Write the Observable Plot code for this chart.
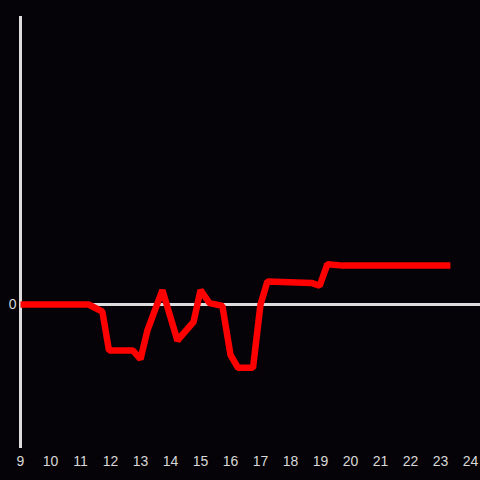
<!DOCTYPE html>
<html>
<head>
<meta charset="utf-8">
<script src="https://cdn.jsdelivr.net/npm/d3@7"></script>
<script src="https://cdn.jsdelivr.net/npm/@observablehq/plot@0.6"></script>
<style>
  html, body { margin: 0; padding: 0; background: #050307; }
  #chart svg { display: block; }
</style>
</head>
<body>
<div id="chart"></div>
<script>
const hours = [9, 11.27, 11.73, 11.95, 12.75, 13.0, 13.23, 13.73, 14.23, 14.77, 15.0, 15.3, 15.73, 16.0, 16.25, 16.75, 17.0, 17.23, 18.7, 18.97, 19.23, 19.75, 23.33];
const values = [0, 0, -0.05, -0.32, -0.32, -0.38, -0.18, 0.1, -0.25, -0.12, 0.1, 0.01, -0.01, -0.35, -0.44, -0.44, 0, 0.16, 0.15, 0.13, 0.28, 0.27, 0.27];
const xTicks = [9, 10, 11, 12, 13, 14, 15, 16, 17, 18, 19, 20, 21, 22, 23, 24];
const yTicks = [0];

const data = hours.map((h, i) => ({hour: h, value: values[i]}));

const chart = Plot.plot({
  width: 480,
  height: 480,
  marginLeft: 20,
  marginRight: 10,
  marginTop: 16,
  marginBottom: 32,
  style: {background: "#050307", color: "#d8d8d8", fontFamily: "Liberation Sans, Arial, sans-serif", fontSize: "14px"},
  x: {domain: [9, 24], ticks: xTicks, tickSize: 0, tickPadding: 8, label: null, tickFormat: d => String(d)},
  y: {domain: [-1, 2], ticks: yTicks, tickSize: 0, tickPadding: 4, label: null, tickFormat: d => String(d)},
  marks: [
    Plot.ruleX([9], {stroke: "#dddddd", strokeWidth: 3}),
    Plot.ruleY([0], {stroke: "#dddddd", strokeWidth: 3, insetRight: -10}),
    Plot.line(data, {x: "hour", y: "value", stroke: "#ff0000", strokeWidth: 6.5, strokeLinejoin: "miter", strokeLinecap: "butt"})
  ]
});
document.getElementById("chart").appendChild(chart);
</script>
</body>
</html>
